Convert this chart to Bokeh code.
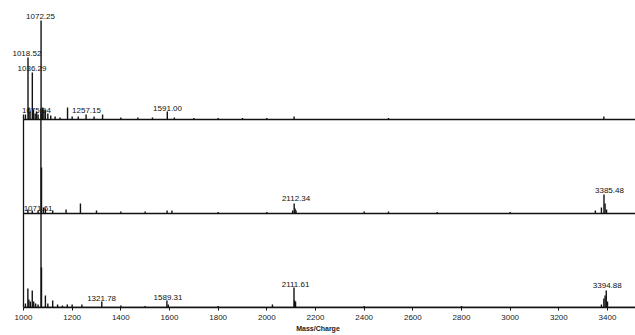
from bokeh.plotting import figure
from bokeh.models import Range1d, FixedTicker, ColumnDataSource
from bokeh.core.properties import value
from bokeh.embed import file_html
from bokeh.resources import INLINE

# ---------------- data (m/z, relative intensity) ----------------
ticks = [1000, 1200, 1400, 1600, 1800, 2000, 2200, 2400, 2600, 2800, 3000, 3200, 3400]

top_mz = [1008, 1018.52, 1022, 1027, 1036.29, 1041, 1048, 1054, 1060, 1072.25, 1075.94,
          1079, 1084, 1090, 1100, 1112, 1130, 1150, 1181, 1200, 1225, 1257.15, 1290,
          1325, 1400, 1470, 1530, 1591.00, 1620, 1700, 1800, 1900, 2000, 2112, 2500, 3385]
top_int = [5, 62, 12, 8, 47, 10, 6, 8, 5, 99, 5,
           12, 10, 9, 6, 4, 3, 2, 12, 3, 3, 5, 3,
           5, 2, 2, 2, 8, 2, 1.5, 1.5, 1.5, 1.5, 3, 1.5, 3]
top_labels = ["1072.25", "1018.52", "1036.29", "1075.94", "1257.15", "1591.00"]
top_label_mz = [1070, 1014, 1035, 1053, 1259, 1592]
top_label_level = [100, 63, 48, 6, 6, 8]

mid_mz = [1018, 1036, 1060, 1071.61, 1074, 1082, 1090, 1120, 1175, 1234, 1300, 1400,
          1500, 1590, 1610, 1800, 2000, 2106, 2112.34, 2116, 2120, 2400, 2500, 2700,
          3000, 3350, 3375, 3385.48, 3390, 3396]
mid_int = [4, 3, 3, 105, 46, 6, 5, 3, 4, 10, 3, 2,
           2, 3, 3, 1.5, 1.5, 3, 10, 5, 3, 2, 2, 1.5,
           1.5, 3, 6, 19, 10, 4]
mid_labels = ["1071.61", "2112.34", "3385.48"]
mid_label_mz = [1060, 2120, 3408]
mid_label_level = [2, 12, 20]

bot_mz = [1008, 1018, 1022, 1028, 1036, 1042, 1050, 1060, 1072, 1074, 1090, 1100,
          1120, 1140, 1160, 1180, 1200, 1240, 1321.78, 1400, 1500, 1589.31, 1595,
          1800, 2023, 2111.61, 2114, 2118, 2400, 2800, 3375, 3385, 3390, 3394.88, 3400]
bot_int = [4, 19, 8, 6, 17, 6, 4, 3, 94, 40, 12, 4,
           7, 3, 2, 3, 3, 3, 6, 2, 1.5, 7, 3,
           1.5, 3, 20, 7, 6, 1.5, 1.5, 3, 9, 12, 17, 6]
bot_labels = ["1321.78", "1589.31", "2111.61", "3394.88"]
bot_label_mz = [1321, 1594, 2118, 3399]
bot_label_level = [6, 7, 20, 19]

x_label = "Mass/Charge"

# ---------------- layout ----------------
X0, X1 = 905.5, 3515
BASES = [188, 94, 0]          # stacked trace baselines
INK = "#121212"
FONT = value("Liberation Sans")

p = figure(width=635, height=335, x_range=Range1d(X0, X1), y_range=Range1d(0, 307),
           output_backend="svg", toolbar_location=None, y_axis_location=None,
           min_border_left=0, min_border_right=0, min_border_top=0, min_border_bottom=28)
p.grid.visible = False
p.outline_line_color = None
p.background_fill_color = "white"

traces = [
    (top_mz, top_int, top_labels, top_label_mz, top_label_level),
    (mid_mz, mid_int, mid_labels, mid_label_mz, mid_label_level),
    (bot_mz, bot_int, bot_labels, bot_label_mz, bot_label_level),
]

for base, (mz, inten, labs, lmz, llev) in zip(BASES, traces):
    p.segment(x0=[1000], y0=[base], x1=[X1], y1=[base], line_color=INK, line_width=1.5)
    src = ColumnDataSource(dict(x=mz, y0=[base] * len(mz), y1=[base + v for v in inten]))
    p.segment(x0="x", y0="y0", x1="x", y1="y1", source=src, line_color=INK, line_width=1.4)
    lsrc = ColumnDataSource(dict(x=lmz, y=[base + v + 1 for v in llev], t=labs))
    p.text(x="x", y="y", text="t", source=lsrc, text_align="center", text_baseline="bottom",
           text_font=FONT, text_font_size="8px", text_color="#111111")

# left vertical line for the lower two traces
p.segment(x0=[1000], y0=[0], x1=[1000], y1=[BASES[0] + 5], line_color=INK, line_width=1.3)

ax = p.xaxis[0]
ax.bounds = (1000, X1)
ax.ticker = FixedTicker(ticks=ticks)
ax.axis_line_color = INK
ax.axis_line_width = 1.5
ax.major_tick_line_color = INK
ax.major_tick_out = 3
ax.major_tick_in = 0
ax.minor_tick_out = 0
ax.minor_tick_in = 0
ax.major_label_text_font = "Liberation Sans"
ax.major_label_text_font_size = "8px"
ax.major_label_text_color = "#1a1a1a"
ax.major_label_standoff = 4
ax.axis_label = x_label
ax.axis_label_text_font = "Liberation Sans"
ax.axis_label_text_font_size = "7px"
ax.axis_label_text_font_style = "bold"
ax.axis_label_text_color = "#1a1a1a"
ax.axis_label_standoff = 2

open("out.html", "w").write(file_html(p, INLINE))
